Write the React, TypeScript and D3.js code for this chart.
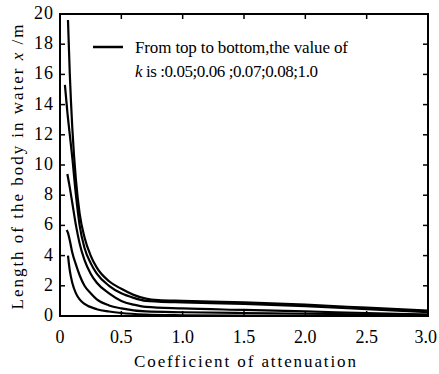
import React from "react";
import * as d3 from "d3";

type Pt = [number, number];

// k = 0.05 (top) ... 1.0 (bottom); [coefficient, length]
const curveK005: Pt[] = [[0.065, 19.6], [0.08, 16], [0.1, 12.5], [0.13, 9], [0.16, 6.8], [0.2, 5.2], [0.25, 4.0], [0.3, 3.2], [0.4, 2.3], [0.5, 1.8], [0.6, 1.4], [0.7, 1.15], [0.8, 1.05], [1.0, 1.0], [1.5, 0.9], [2.0, 0.75], [2.5, 0.55], [3.0, 0.35]];
const curveK006: Pt[] = [[0.04, 15.3], [0.06, 13.5], [0.08, 12], [0.1, 10.5], [0.13, 8], [0.16, 6.0], [0.2, 4.5], [0.25, 3.5], [0.3, 2.8], [0.4, 2.0], [0.5, 1.5], [0.6, 1.2], [0.7, 1.0], [0.8, 0.95], [1.0, 0.9], [1.5, 0.8], [2.0, 0.65], [2.5, 0.45], [3.0, 0.25]];
const curveK007: Pt[] = [[0.06, 9.4], [0.08, 8.5], [0.1, 7.5], [0.13, 6], [0.16, 4.8], [0.2, 3.7], [0.25, 2.8], [0.3, 2.2], [0.4, 1.5], [0.5, 1.0], [0.6, 0.75], [0.7, 0.6], [1.0, 0.5], [1.5, 0.4], [2.0, 0.3], [2.5, 0.2], [3.0, 0.1]];
const curveK008: Pt[] = [[0.055, 5.7], [0.065, 5.5], [0.08, 5.0], [0.1, 4.2], [0.13, 3.4], [0.16, 2.7], [0.2, 2.0], [0.25, 1.5], [0.3, 1.1], [0.4, 0.7], [0.5, 0.5], [0.7, 0.3], [1.0, 0.25], [1.5, 0.2], [2.0, 0.15], [3.0, 0.08]];
const curveK10: Pt[] = [[0.065, 4.0], [0.08, 3.0], [0.1, 2.2], [0.13, 1.5], [0.16, 1.1], [0.2, 0.8], [0.3, 0.45], [0.4, 0.3], [0.5, 0.2], [0.7, 0.1], [1.0, 0.05], [1.5, 0.02], [2.0, 0.01], [3.0, 0]];

const xTicks = [0, 0.5, 1.0, 1.5, 2.0, 2.5, 3.0];
const xTickLabels = ["0", "0.5", "1.0", "1.5", "2.0", "2.5", "3.0"];
const yTicks = [0, 2, 4, 6, 8, 10, 12, 14, 16, 18, 20];

const W = 439;
const H = 374;
const left = 60, right = 428, top = 14, bottom = 316;
const serif = { fontFamily: "Liberation Serif" };

export default function App() {
  const x = d3.scaleLinear().domain([0, 3]).range([left, right]);
  const y = d3.scaleLinear().domain([0, 20]).range([bottom, top]);
  const line = d3.line<Pt>().x(d => x(d[0])).y(d => y(d[1])).curve(d3.curveMonotoneX);
  const curves = [curveK005, curveK006, curveK007, curveK008, curveK10];
  const tk = 5;
  const last = xTicks.length - 1;

  return (
    <svg width={W} height={H} style={{ position: "absolute", left: 0, top: 0, background: "#fff" }}>
      <rect x={0} y={0} width={W} height={H} fill="#fff" />
      {curves.map((c, i) => (
        <path key={i} d={line(c) || ""} fill="none" stroke="#000" strokeWidth={2.2} />
      ))}
      <rect x={left} y={top} width={right - left} height={bottom - top} fill="none" stroke="#000" strokeWidth={2} />
      {xTicks.map((t, i) => (
        <g key={"x" + i}>
          <line x1={x(t)} x2={x(t)} y1={bottom} y2={bottom - tk} stroke="#000" strokeWidth={1.5} />
          <line x1={x(t)} x2={x(t)} y1={top} y2={top + tk} stroke="#000" strokeWidth={1.5} />
          <text x={i === last ? W - 2 : x(t)} y={343} textAnchor={i === last ? "end" : "middle"} fontSize={18} fill="#000" style={serif}>{xTickLabels[i]}</text>
        </g>
      ))}
      {yTicks.map((t, i) => (
        <g key={"y" + i}>
          <line x1={left} x2={left + tk} y1={y(t)} y2={y(t)} stroke="#000" strokeWidth={1.5} />
          <line x1={right} x2={right - tk} y1={y(t)} y2={y(t)} stroke="#000" strokeWidth={1.5} />
          <text x={54} y={y(t) + 5} textAnchor="end" fontSize={18} letterSpacing={1} fill="#000" style={serif}>{t}</text>
        </g>
      ))}
      <text x={245} y={367} textAnchor="middle" fontSize={17} fill="#000" style={serif} textLength={222} lengthAdjust="spacing">Coefficient of attenuation</text>
      <text transform={`translate(23,${(top + bottom) / 2 + 2}) rotate(-90)`} textAnchor="middle" fontSize={17} fill="#000" style={serif} textLength={285} lengthAdjust="spacing">
        Length of the body in water <tspan fontStyle="italic">x</tspan> /m
      </text>
      <line x1={93} x2={123} y1={47} y2={47} stroke="#000" strokeWidth={2.5} />
      <text x={135} y={53} fontSize={17} fill="#000" style={serif} textLength={213} lengthAdjust="spacing">From top to bottom,the value of</text>
      <text x={135} y={77} fontSize={17} fill="#000" style={serif} textLength={183} lengthAdjust="spacing">
        <tspan fontStyle="italic">k</tspan> is :0.05;0.06 ;0.07;0.08;1.0
      </text>
    </svg>
  );
}
